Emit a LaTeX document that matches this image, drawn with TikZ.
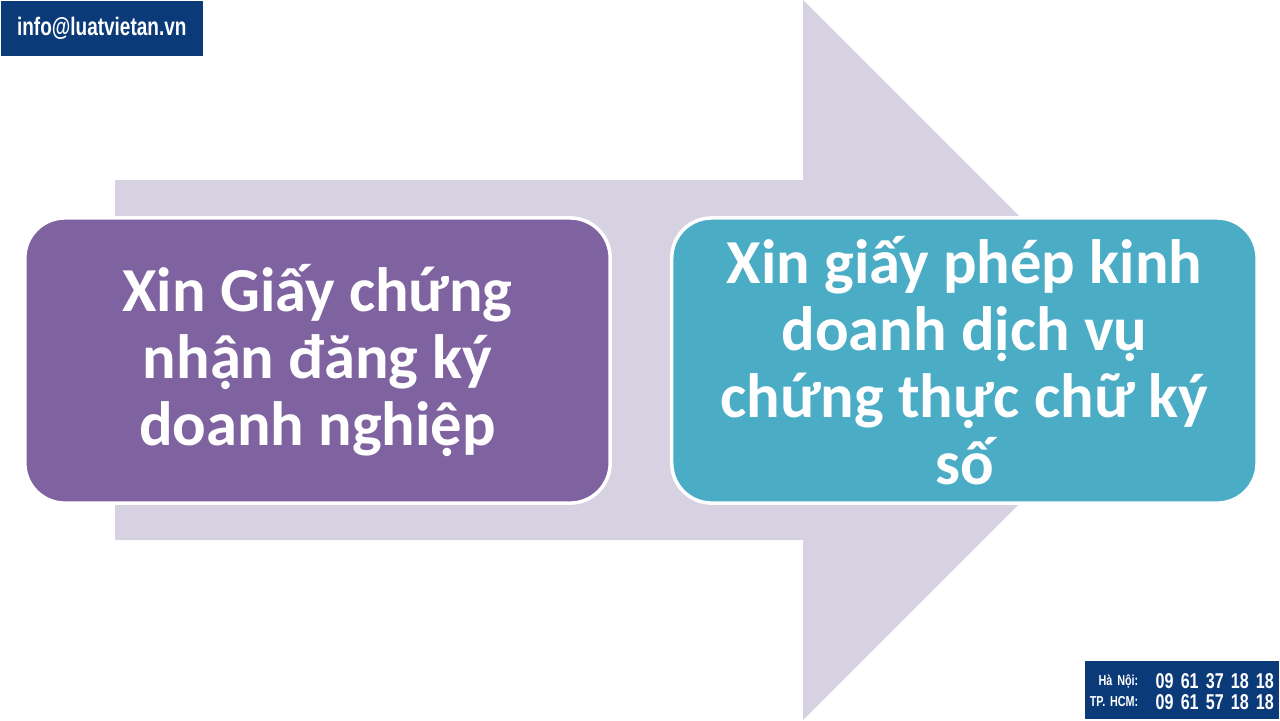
\documentclass[tikz,border=0pt]{standalone}
\usepackage{fontspec}
\setmainfont{Carlito}
\newfontfamily\narrowfont[FakeStretch=0.75]{Liberation Sans}
\newfontfamily\hotfont[FakeStretch=0.75,WordSpace=1.6]{Liberation Sans}
\usetikzlibrary{positioning}

\definecolor{arrowgray}{HTML}{D6D2E2}
\definecolor{stepviolet}{HTML}{7F63A1}
\definecolor{stepteal}{HTML}{4BACC6}
\definecolor{lawnavy}{HTML}{0B3A78}

\begin{document}
\begin{tikzpicture}[x=0.01cm,y=-0.01cm,
    procbox/.style={draw=white,line width=1pt,rounded corners=0.4cm,
      minimum width=5.85cm,minimum height=2.85cm,align=center,text=white,
      font=\fontsize{17.8}{19}\selectfont\bfseries},
    tagbox/.style={fill=lawnavy,inner sep=0pt,text=white},
    hotlabel/.style={anchor=east,inner sep=0pt,text=white,
      font=\narrowfont\bfseries\fontsize{4.1}{5}\selectfont},
    hotnum/.style={anchor=west,inner sep=0pt,text=white,
      font=\hotfont\bfseries\fontsize{6.1}{7}\selectfont}]
    \useasboundingbox (0,0) rectangle (1280,720);
    % big background arrow
    \fill[arrowgray] (115,180) -- (803,180) -- (803,0) -- (1163,360)
      -- (803,720) -- (803,540) -- (115,540) -- cycle;
    % the two steps
    \node[procbox,fill=stepviolet] (reg) at (317.5,360.5)
      {Xin Giấy chứng\\nhận đăng ký\\doanh nghiệp};
    \node[procbox,fill=stepteal,right=0.58cm of reg] (lic)
      {Xin giấy phép kinh\\doanh dịch vụ\\chứng thực chữ ký\\số};
    % contact boxes
    \node[tagbox,anchor=north west,minimum width=2.02cm,minimum height=0.55cm,
      font=\narrowfont\bfseries\fontsize{7.2}{8}\selectfont] (mail) at (0,0)
      {info@luatvietan.vn};
    \node[tagbox,anchor=south east,minimum width=1.94cm,minimum height=0.58cm]
      (hot) at (1280,720) {};
    \node[hotlabel] (hn) at (1139,681) {Hà Nội:};
    \node[hotlabel] (hcm) at (1139,702) {TP. HCM:};
    \node[hotnum] (hnno) at (1155,681) {09 61 37 18 18};
    \node[hotnum] (hcmno) at (1155,702) {09 61 57 18 18};
\end{tikzpicture}
\end{document}
